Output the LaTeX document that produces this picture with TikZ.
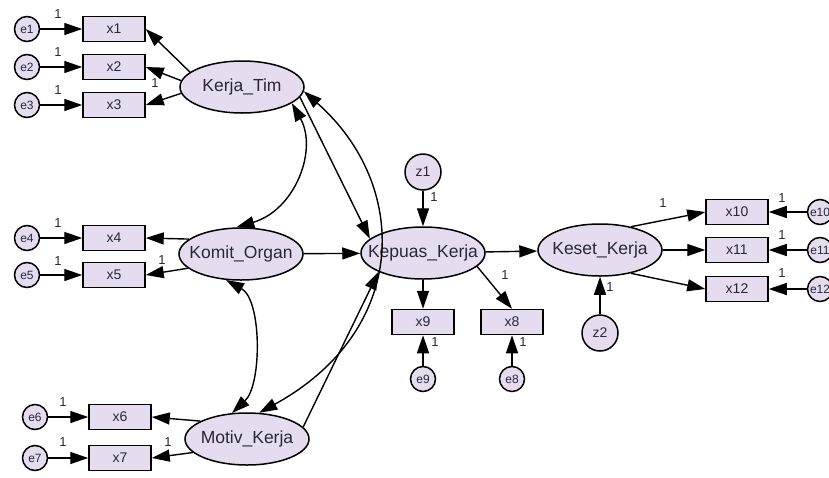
\documentclass[tikz,border=0pt]{standalone}
\usepackage{fontspec}
\setmainfont{Liberation Sans}
\usetikzlibrary{arrows.meta,shapes.geometric}
\definecolor{lav}{RGB}{229,220,239}
\definecolor{ink}{RGB}{40,40,58}
\begin{document}
\begin{tikzpicture}[x=1pt,y=-1pt,
  obsbox/.style={draw=black, line width=1.5pt, fill=lav, rectangle, minimum width=62pt, minimum height=25pt, inner sep=0pt, font=\fontsize{14}{16}\selectfont, text=ink},
  latent/.style={draw=black, line width=1.5pt, fill=lav, ellipse, minimum width=124pt, minimum height=52pt, inner sep=0pt, font=\fontsize{17.5}{20}\selectfont, text=ink},
  errc/.style={draw=black, line width=1.5pt, fill=lav, circle, minimum size=25pt, inner sep=0pt, font=\fontsize{12}{14}\selectfont, text=ink},
  distc/.style={errc, minimum size=36pt, font=\fontsize{14}{16}\selectfont},
  onelab/.style={font=\fontsize{13}{15}\selectfont, text=ink, inner sep=0pt},
  regarrow/.style={line width=1.4pt, -{Triangle[length=18pt,width=12pt]}},
  covarrow/.style={line width=1.4pt, {Triangle[length=18pt,width=12pt]}-{Triangle[length=18pt,width=12pt]}},
]
\fill[white] (0,0) rectangle (829,477);
\useasboundingbox (0,0) rectangle (829,477);

% error circles left
\node[errc] (e1) at (27,29) {\makebox[0pt]{e1}};
\node[errc] (e2) at (27,67) {\makebox[0pt]{e2}};
\node[errc] (e3) at (27,105) {\makebox[0pt]{e3}};
\node[errc] (e4) at (27,238) {\makebox[0pt]{e4}};
\node[errc] (e5) at (27,275) {\makebox[0pt]{e5}};
\node[errc] (e6) at (35,417) {\makebox[0pt]{e6}};
\node[errc] (e7) at (35,458) {\makebox[0pt]{e7}};

% observed boxes left
\node[obsbox] (x1) at (114,29) {x1};
\node[obsbox] (x2) at (114,67) {x2};
\node[obsbox] (x3) at (114,105) {x3};
\node[obsbox] (x4) at (114,238) {x4};
\node[obsbox] (x5) at (114,275) {x5};
\node[obsbox] (x6) at (120,417) {x6};
\node[obsbox] (x7) at (120,458) {x7};

% latent variables
\node[latent] (KT) at (242,87) {\makebox[0pt]{Kerja\_Tim}};
\node[latent] (KO) at (241,254) {\makebox[0pt]{Komit\_Organ}};
\node[latent] (MK) at (247,439) {\makebox[0pt]{Motiv\_Kerja}};
\node[latent] (KP) at (423,253) {\makebox[0pt]{Kepuas\_Kerja}};
\node[latent] (KS) at (600,250) {\makebox[0pt]{Keset\_Kerja}};

% disturbances
\node[distc] (z1) at (423,172) {\makebox[0pt]{z1}};
\node[distc] (z2) at (600,333) {\makebox[0pt]{z2}};

% middle / right observed
\node[obsbox] (x9) at (423,322) {x9};
\node[obsbox] (x8) at (512,322) {x8};
\node[errc] (e9) at (423,379) {\makebox[0pt]{e9}};
\node[errc] (e8) at (512,379) {\makebox[0pt]{e8}};
\node[obsbox] (x10) at (737,212) {x10};
\node[obsbox] (x11) at (737,250) {x11};
\node[obsbox] (x12) at (737,289) {x12};
\node[errc] (e10) at (820,212) {\makebox[0pt]{e10}};
\node[errc] (e11) at (820,250) {\makebox[0pt]{e11}};
\node[errc] (e12) at (820,289) {\makebox[0pt]{e12}};

% error -> indicator
\draw[regarrow] (e1) -- (x1);
\draw[regarrow] (e2) -- (x2);
\draw[regarrow] (e3) -- (x3);
\draw[regarrow] (e4) -- (x4);
\draw[regarrow] (e5) -- (x5);
\draw[regarrow] (e6) -- (x6);
\draw[regarrow] (e7) -- (x7);
\draw[regarrow] (e9) -- (x9);
\draw[regarrow] (e8) -- (x8);
\draw[regarrow] (e10) -- (x10);
\draw[regarrow] (e11) -- (x11);
\draw[regarrow] (e12) -- (x12);

% loadings
\draw[regarrow] (KT.164) -- (x1.east);
\draw[regarrow] (KT.174) -- (x2.east);
\draw[regarrow] (KT.186) -- (x3.east);
\draw[regarrow] (KO.164) -- (x4.east);
\draw[regarrow] (KO.195) -- (x5.east);
\draw[regarrow] (MK.159) -- (x6.east);
\draw[regarrow] (MK.194) -- (x7.east);
\draw[regarrow] (KP) -- (x9);
\draw[regarrow] (KP.-14) -- (x8.north);
\draw[regarrow] (KS.37) -- (x10.west);
\draw[regarrow] (KS) -- (x11);
\draw[regarrow] (KS.-37) -- (x12.west);

% structural paths
\draw[regarrow] (KT.-10) -- (KP.165);
\draw[regarrow] (KO) -- (KP);
\draw[regarrow] (MK.12) -- (KP.203);
\draw[regarrow] (z1) -- (KP);
\draw[regarrow] (KP) -- (KS);
\draw[regarrow] (z2) -- (KS);

% covariances
\draw[covarrow] (KT.-18) .. controls (318,150) and (295,210) .. (KO.100);
\draw[covarrow] (KT.-4) .. controls (410,185) and (410,330) .. (MK.65);
\draw[covarrow] (KO.240) .. controls (262,300) and (262,385) .. (MK.120);

% "1" labels
\node[onelab] (l1) at (58,14) {1};
\node[onelab] (l2) at (58,52) {1};
\node[onelab] (l3) at (58,90) {1};
\node[onelab] (lkt) at (155,83) {1};
\node[onelab] (l4) at (58,223) {1};
\node[onelab] (l5) at (58,261) {1};
\node[onelab] (lko) at (162,260) {1};
\node[onelab] (l6) at (63,402) {1};
\node[onelab] (l7) at (63,442) {1};
\node[onelab] (lmk) at (168,442) {1};
\node[onelab] (lz1) at (434,197) {1};
\node[onelab] (lkp) at (505,275) {1};
\node[onelab] (le9) at (435,342) {1};
\node[onelab] (le8) at (523,342) {1};
\node[onelab] (lz2) at (610,287) {1};
\node[onelab] (lks) at (663,203) {1};
\node[onelab] (l10) at (782,198) {1};
\node[onelab] (l11) at (782,235) {1};
\node[onelab] (l12) at (782,273) {1};
\end{tikzpicture}
\end{document}
